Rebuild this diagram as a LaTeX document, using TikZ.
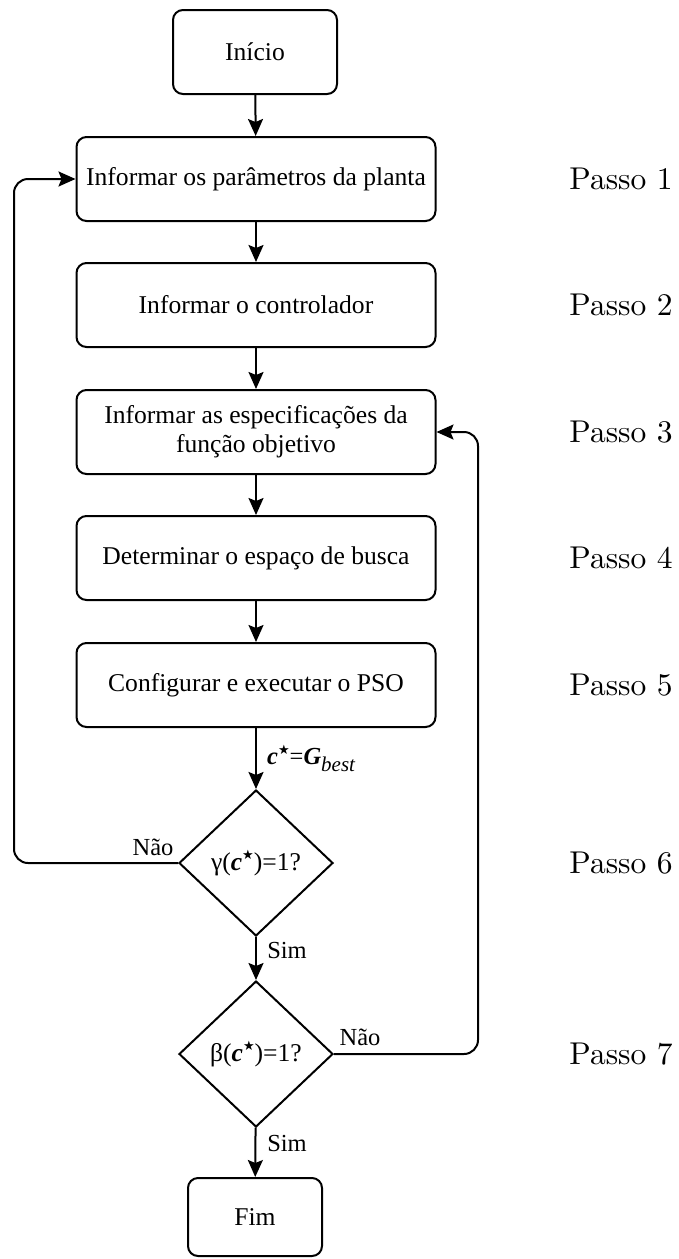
\documentclass[tikz,border=0pt]{standalone}
\usepackage{fontspec}
\newfontfamily\tnr{Liberation Serif}
\newfontfamily\djv{DejaVu Sans}
\newfontfamily\lmten{lmroman10-regular}[Extension=.otf]
\usetikzlibrary{shapes.geometric,arrows.meta}
\begin{document}
\begin{tikzpicture}[x=1pt,y=-1pt,
  box/.style={draw, line width=2pt, rounded corners=10pt, align=center,
    font=\tnr\fontsize{25.6}{29}\selectfont, inner sep=0pt,
    minimum width=359pt, minimum height=84pt},
  dec/.style={draw, diamond, line width=2pt, inner sep=0pt,
    font=\tnr\fontsize{25.6}{29}\selectfont,
    minimum width=154pt, minimum height=146pt},
  lbl/.style={font=\tnr\fontsize{24.5}{28}\selectfont, inner sep=0pt},
  passo/.style={font=\lmten\fontsize{31.5}{36}\selectfont, inner sep=0pt},
  arr/.style={line width=2pt, -{Stealth[length=17pt, width=15pt, inset=3pt]}},
  loop/.style={arr, rounded corners=14pt}]
\useasboundingbox (0,0) rectangle (678,1259);
\newcommand{\cst}{{\bfseries\itshape c}\raisebox{0.42em}{\djv\fontsize{13}{13}\selectfont ★}}

\node[box, minimum width=164pt] (ini) at (255,52) {Início};
\node[box] (b1) at (256,179) {Informar os parâmetros da planta};
\node[box] (b2) at (256,305) {Informar o controlador};
\node[box] (b3) at (256,432) {Informar as especificações da\\função objetivo};
\node[box] (b4) at (256,558) {Determinar o espaço de busca};
\node[box] (b5) at (256,685) {Configurar e executar o PSO};
\node[dec] (d1) at (256,863) {γ(\cst)=1?};
\node[dec] (d2) at (256,1054) {β(\cst)=1?};
\node[box, minimum width=134pt, minimum height=78pt] (fim) at (255,1217) {Fim};

\coordinate (lx) at (14,500);
\coordinate (rx) at (478,700);

\draw[arr] (ini) -- (b1);
\draw[arr] (b1) -- (b2);
\draw[arr] (b2) -- (b3);
\draw[arr] (b3) -- (b4);
\draw[arr] (b4) -- (b5);
\draw[arr] (b5) -- (d1);
\draw[arr] (d1) -- (d2);
\draw[arr] (d2) -- (fim);
\draw[loop] (d1.west) -| (lx) |- (b1.west);
\draw[loop] (d2.east) -| (rx) |- (b3.east);

\node[lbl, anchor=west] (cg) at (267,758) {\cst={\bfseries\itshape G}\raisebox{-0.28em}{\fontsize{21}{21}\selectfont\itshape best}};
\node[lbl] (n1) at (153,847) {Não};
\node[lbl] (n2) at (360,1037) {Não};
\node[lbl] (s1) at (287,950) {Sim};
\node[lbl] (s2) at (287,1143) {Sim};

\node[passo] (p1) at (621,179) {Passo 1};
\node[passo] (p2) at (621,305) {Passo 2};
\node[passo] (p3) at (621,432) {Passo 3};
\node[passo] (p4) at (621,558) {Passo 4};
\node[passo] (p5) at (621,685) {Passo 5};
\node[passo] (p6) at (621,863) {Passo 6};
\node[passo] (p7) at (621,1054) {Passo 7};
\end{tikzpicture}
\end{document}
